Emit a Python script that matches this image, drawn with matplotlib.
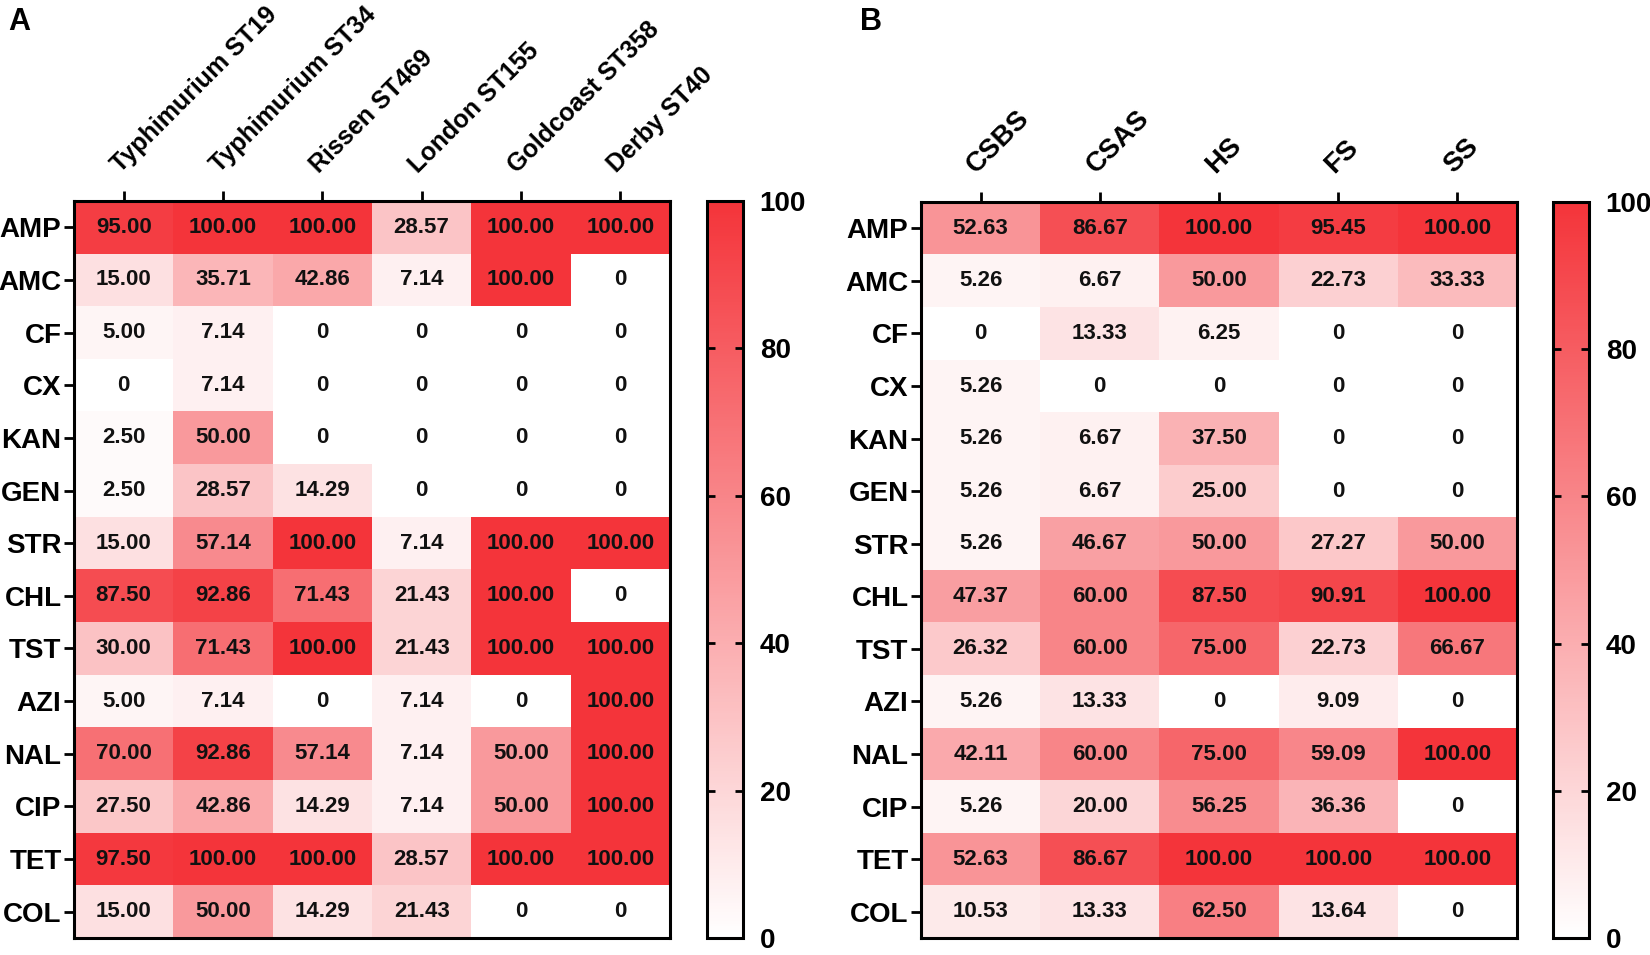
import numpy as np
import matplotlib
matplotlib.use("Agg")
import matplotlib.pyplot as plt
from matplotlib.colors import LinearSegmentedColormap

plt.rcParams['font.family'] = ['Liberation Sans', 'DejaVu Sans']
plt.rcParams['font.weight'] = 'bold'

# ---------------- Data ----------------
drugs = ["AMP", "AMC", "CF", "CX", "KAN", "GEN", "STR", "CHL", "TST", "AZI", "NAL", "CIP", "TET", "COL"]

serotypes = ["Typhimurium ST19", "Typhimurium ST34", "Rissen ST469",
             "London ST155", "Goldcoast ST358", "Derby ST40"]
typh_st19 = [95.00, 15.00, 5.00, 0, 2.50, 2.50, 15.00, 87.50, 30.00, 5.00, 70.00, 27.50, 97.50, 15.00]
typh_st34 = [100.00, 35.71, 7.14, 7.14, 50.00, 28.57, 57.14, 92.86, 71.43, 7.14, 92.86, 42.86, 100.00, 50.00]
rissen_st469 = [100.00, 42.86, 0, 0, 0, 14.29, 100.00, 71.43, 100.00, 0, 57.14, 14.29, 100.00, 14.29]
london_st155 = [28.57, 7.14, 0, 0, 0, 0, 7.14, 21.43, 21.43, 7.14, 7.14, 7.14, 28.57, 21.43]
goldcoast_st358 = [100.00, 100.00, 0, 0, 0, 0, 100.00, 100.00, 100.00, 0, 50.00, 50.00, 100.00, 0]
derby_st40 = [100.00, 0, 0, 0, 0, 0, 100.00, 0, 100.00, 100.00, 100.00, 100.00, 100.00, 0]

sources = ["CSBS", "CSAS", "HS", "FS", "SS"]
csbs = [52.63, 5.26, 0, 5.26, 5.26, 5.26, 5.26, 47.37, 26.32, 5.26, 42.11, 5.26, 52.63, 10.53]
csas = [86.67, 6.67, 13.33, 0, 6.67, 6.67, 46.67, 60.00, 60.00, 13.33, 60.00, 20.00, 86.67, 13.33]
hs = [100.00, 50.00, 6.25, 0, 37.50, 25.00, 50.00, 87.50, 75.00, 0, 75.00, 56.25, 100.00, 62.50]
fs = [95.45, 22.73, 0, 0, 0, 0, 27.27, 90.91, 22.73, 9.09, 59.09, 36.36, 100.00, 13.64]
ss = [100.00, 33.33, 0, 0, 0, 0, 50.00, 100.00, 66.67, 0, 100.00, 0, 100.00, 0]

mat_a = np.array([typh_st19, typh_st34, rissen_st469, london_st155, goldcoast_st358, derby_st40]).T
mat_b = np.array([csbs, csas, hs, fs, ss]).T

cmap = LinearSegmentedColormap.from_list("wr", ["#FFFFFF", "#F4343A"])

W, H = 1650, 955
fig = plt.figure(figsize=(W / 100, H / 100), dpi=100)


def box(l, r, t, b):
    return [l / W, 1 - b / H, (r - l) / W, (b - t) / H]


def fmt(v):
    return "0" if v == 0 else f"{v:.2f}"


def draw_panel(mat, cols, col_fs, ax_box, cb_box, letter, letter_x):
    ax = fig.add_axes(ax_box)
    im = ax.imshow(mat, cmap=cmap, vmin=0, vmax=100, aspect="auto")
    for i in range(mat.shape[0]):
        for j in range(mat.shape[1]):
            ax.text(j, i, fmt(mat[i, j]), ha="center", va="center",
                    fontsize=16, fontweight="bold", color="#111111")
    ax.set_yticks(range(len(drugs)))
    ax.set_yticklabels(drugs, fontsize=20, fontweight="bold")
    ax.set_xticks(range(len(cols)))
    ax.xaxis.tick_top()
    ax.set_xticklabels(cols, rotation=45, ha="left", rotation_mode="anchor",
                       fontsize=col_fs, fontweight="bold")
    ax.tick_params(axis="both", length=7, width=2, pad=2)
    ax.tick_params(axis="x", pad=10)
    for s in ax.spines.values():
        s.set_linewidth(2.2)

    cax = fig.add_axes(cb_box)
    cb = fig.colorbar(im, cax=cax, ticks=[0, 20, 40, 60, 80, 100])
    cb.outline.set_linewidth(2.2)
    cax.tick_params(axis="y", which="both", left=True, right=True, direction="in",
                    length=6, width=2, labelsize=20, pad=12)
    for t in cax.get_yticklabels():
        t.set_fontweight("bold")
    fig.text(letter_x / W, 1 - 22 / H, letter, fontsize=22, fontweight="bold",
             va="center", ha="left")


draw_panel(mat_a, serotypes, 18, box(74, 670, 201, 938), box(707, 743, 201, 938), "A", 8)
draw_panel(mat_b, sources, 20, box(921, 1517, 202, 938), box(1553, 1589, 202, 938), "B", 860)

fig.savefig("out.png", dpi=100)
